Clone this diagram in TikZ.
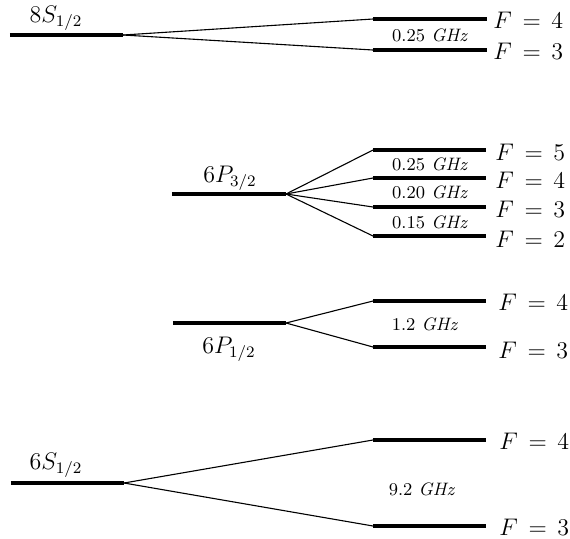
\documentclass[tikz,border=0pt]{standalone}
\begin{document}
\begin{tikzpicture}[x=0.5pt,y=-0.5pt,
  level/.style={line width=1.8pt},
  conn/.style={line width=0.55pt},
  lab/.style={font=\fontsize{11.7}{14}\selectfont, inner sep=0pt},
  flab/.style={font=\fontsize{11.7}{14}\selectfont, inner sep=0pt, anchor=west},
  ghz/.style={font=\fontsize{9}{11}\selectfont, inner sep=0pt}]
\useasboundingbox (0,0) rectangle (570,538);
% 8S1/2
\coordinate (a0l) at (10,35); \coordinate (a0r) at (123,35);
\coordinate (a4l) at (373,19); \coordinate (a4r) at (487,19);
\coordinate (a3l) at (373,50); \coordinate (a3r) at (487,50);
\draw[level] (a0l) -- (a0r);
\draw[level] (a4l) -- (a4r);
\draw[level] (a3l) -- (a3r);
\draw[conn] (a0r) -- (a4l);
\draw[conn] (a0r) -- (a3l);
\node[lab] (a0t) at (56,18) {$8S_{1/2}$};
\node[ghz] (ag) at (430,35) {0.25 \textit{GHz}};
\node[flab] (af4) at (493,20) {$F\,=\,4$};
\node[flab] (af3) at (493,51) {$F\,=\,3$};
% 6P3/2
\coordinate (b0l) at (172,194); \coordinate (b0r) at (286,194);
\coordinate (b5l) at (373,150); \coordinate (b5r) at (486,150);
\coordinate (b4l) at (373,178); \coordinate (b4r) at (486,178);
\coordinate (b3l) at (373,207); \coordinate (b3r) at (486,207);
\coordinate (b2l) at (373,236); \coordinate (b2r) at (486,236);
\foreach \n in {0,5,4,3,2} {\draw[level] (b\n l) -- (b\n r);}
\foreach \n in {5,4,3,2} {\draw[conn] (b0r) -- (b\n l);}
\node[lab] (b0t) at (230,178) {$6P_{3/2}$};
\node[ghz] (bg1) at (430,164) {0.25 \textit{GHz}};
\node[ghz] (bg2) at (430,192) {0.20 \textit{GHz}};
\node[ghz] (bg3) at (430,222) {0.15 \textit{GHz}};
\node[flab] (bf5) at (495,152) {$F\,=\,5$};
\node[flab] (bf4) at (495,180) {$F\,=\,4$};
\node[flab] (bf3) at (495,209) {$F\,=\,3$};
\node[flab] (bf2) at (495,239) {$F\,=\,2$};
% 6P1/2
\coordinate (c0l) at (173,323); \coordinate (c0r) at (286,323);
\coordinate (c4l) at (373,301); \coordinate (c4r) at (486,301);
\coordinate (c3l) at (373,347); \coordinate (c3r) at (486,347);
\foreach \n in {0,4,3} {\draw[level] (c\n l) -- (c\n r);}
\draw[conn] (c0r) -- (c4l);
\draw[conn] (c0r) -- (c3l);
\node[lab] (c0t) at (229,349) {$6P_{1/2}$};
\node[ghz] (cg) at (425,324) {1.2 \textit{GHz}};
\node[flab] (cf4) at (498,302) {$F\,=\,4$};
\node[flab] (cf3) at (498,350) {$F\,=\,3$};
% 6S1/2
\coordinate (d0l) at (11,483); \coordinate (d0r) at (124,483);
\coordinate (d4l) at (373,440); \coordinate (d4r) at (486,440);
\coordinate (d3l) at (373,526); \coordinate (d3r) at (486,526);
\foreach \n in {0,4,3} {\draw[level] (d\n l) -- (d\n r);}
\draw[conn] (d0r) -- (d4l);
\draw[conn] (d0r) -- (d3l);
\node[lab] (d0t) at (56,465) {$6S_{1/2}$};
\node[ghz] (dg) at (422,489) {9.2 \textit{GHz}};
\node[flab] (df4) at (499,441) {$F\,=\,4$};
\node[flab] (df3) at (499,527) {$F\,=\,3$};
\end{tikzpicture}
\end{document}
